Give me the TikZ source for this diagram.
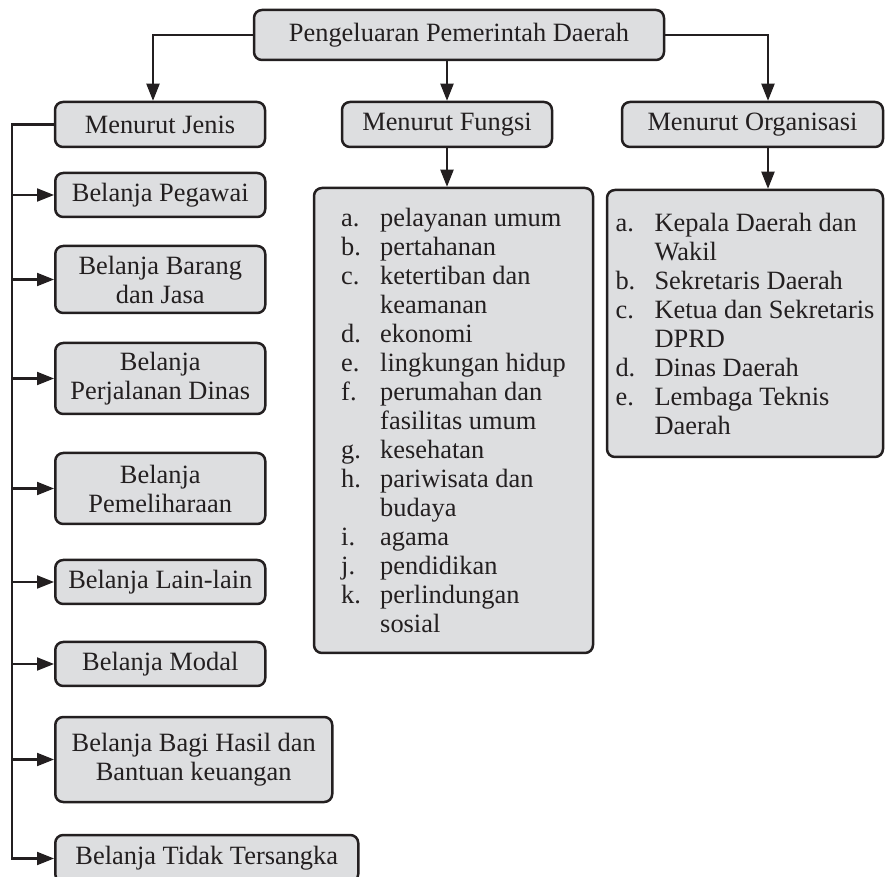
\documentclass[tikz,border=0pt]{standalone}
\usepackage{fontspec}
\setmainfont{Liberation Serif}
\usepackage{tikz}
\usetikzlibrary{calc}
\usetikzlibrary{arrows.meta}

\definecolor{boxgray}{RGB}{221,222,224}
\definecolor{inkline}{RGB}{35,31,32}
\newcommand{\lbl}[1]{\makebox[19.5pt][l]{#1}}
\newcommand{\lblskip}{\hspace*{19.5pt}}

\begin{document}
\begin{tikzpicture}[x=0.5pt,y=-0.5pt]
	\tikzstyle{every node}=[font=\fontsize{13.2}{14.5}\selectfont, text=inkline]
	\tikzstyle{katbox}=[draw=inkline, line width=1.25pt, fill=boxgray, rounded corners=4pt, inner sep=0pt, align=center]
	\tikzstyle{listbox}=[katbox, align=left]
	\tikzstyle{conn}=[draw=inkline, line width=1.05pt, -{Triangle[length=8.5pt,width=6.5pt]}]
	
	\useasboundingbox (0,0) rectangle (885,877);
	
	% kepala dan tiga cabang
	\node[katbox, minimum width=205pt, minimum height=25pt] (top) at (459,35) {Pengeluaran Pemerintah Daerah};
	\node[katbox, minimum width=105pt, minimum height=22.5pt] (jenis) at (160,124.5) {Menurut Jenis};
	\node[katbox, minimum width=105pt, minimum height=22.5pt] (fungsi) at (447,124.5) {Menurut Fungsi};
	\node[katbox, minimum width=130.5pt, minimum height=22.5pt] (org) at (752.5,124.5) {Menurut Organisasi};
	
	\node[listbox, minimum width=139.5pt, minimum height=232.5pt] (flist) at (453.5,420.5) {%
		\lbl{a.}pelayanan umum\\
		\lbl{b.}pertahanan\\
		\lbl{c.}ketertiban dan\\
		\lblskip keamanan\\
		\lbl{d.}ekonomi\\
		\lbl{e.}lingkungan hidup\\
		\lbl{f.}perumahan dan\\
		\lblskip fasilitas umum\\
		\lbl{g.}kesehatan\\
		\lbl{h.}pariwisata dan\\
		\lblskip budaya\\
		\lbl{i.}agama\\
		\lbl{j.}pendidikan\\
		\lbl{k.}perlindungan\\
		\lblskip sosial};
	
	\node[listbox, minimum width=138pt, minimum height=133.5pt] (olist) at (745,323.5) {%
		\lbl{a.}Kepala Daerah dan\\
		\lblskip Wakil\\
		\lbl{b.}Sekretaris Daerah\\
		\lbl{c.}Ketua dan Sekretaris\\
		\lblskip DPRD\\
		\lbl{d.}Dinas Daerah\\
		\lbl{e.}Lembaga Teknis\\
		\lblskip Daerah};
	
	% jenis belanja
	\node[katbox, anchor=west, minimum width=105pt, minimum height=22pt] (pegawai) at (54,195) {Belanja Pegawai};
	\node[katbox, anchor=west, minimum width=105pt, minimum height=33.5pt] (barang) at (54,279.5) {Belanja Barang\\dan Jasa};
	\node[katbox, anchor=west, minimum width=105pt, minimum height=35.5pt] (perjalanan) at (54,378.5) {Belanja\\Perjalanan Dinas};
	\node[katbox, anchor=west, minimum width=105pt, minimum height=35.5pt] (pemeliharaan) at (54,488.5) {Belanja\\Pemeliharaan};
	\node[katbox, anchor=west, minimum width=105pt, minimum height=22pt] (lain) at (54,582) {Belanja Lain-lain};
	\node[katbox, anchor=west, minimum width=105pt, minimum height=22pt] (modal) at (54,664) {Belanja Modal};
	\node[katbox, anchor=west, minimum width=138.5pt, minimum height=42.5pt] (bagi) at (54,759.5) {Belanja Bagi Hasil dan\\Bantuan keuangan};
	\node[katbox, anchor=west, minimum width=151.5pt, minimum height=23.5pt] (tidak) at (54,858.5) {Belanja Tidak Tersangka};
	
	\coordinate (trunk) at (12,0);
	\coordinate (orgx) at (768,0);
	
	\draw[conn] (top.west) -| ($(jenis.north)+(-7,0)$);
	\draw[conn] (fungsi.north |- top.south) -- (fungsi.north);
	\draw[conn] (top.east) -| (orgx |- org.north);
	\draw[conn] (fungsi.south) -- (fungsi.south |- flist.north);
	\draw[conn] (orgx |- org.south) -- (orgx |- olist.north);
	
	\draw[conn] (jenis.west) -| (trunk |- tidak.west) -- (tidak.west);
	\foreach \b in {pegawai,barang,perjalanan,pemeliharaan,lain,modal,bagi}
		\draw[conn] (trunk |- \b.west) -- (\b.west);
	
\end{tikzpicture}
\end{document}
